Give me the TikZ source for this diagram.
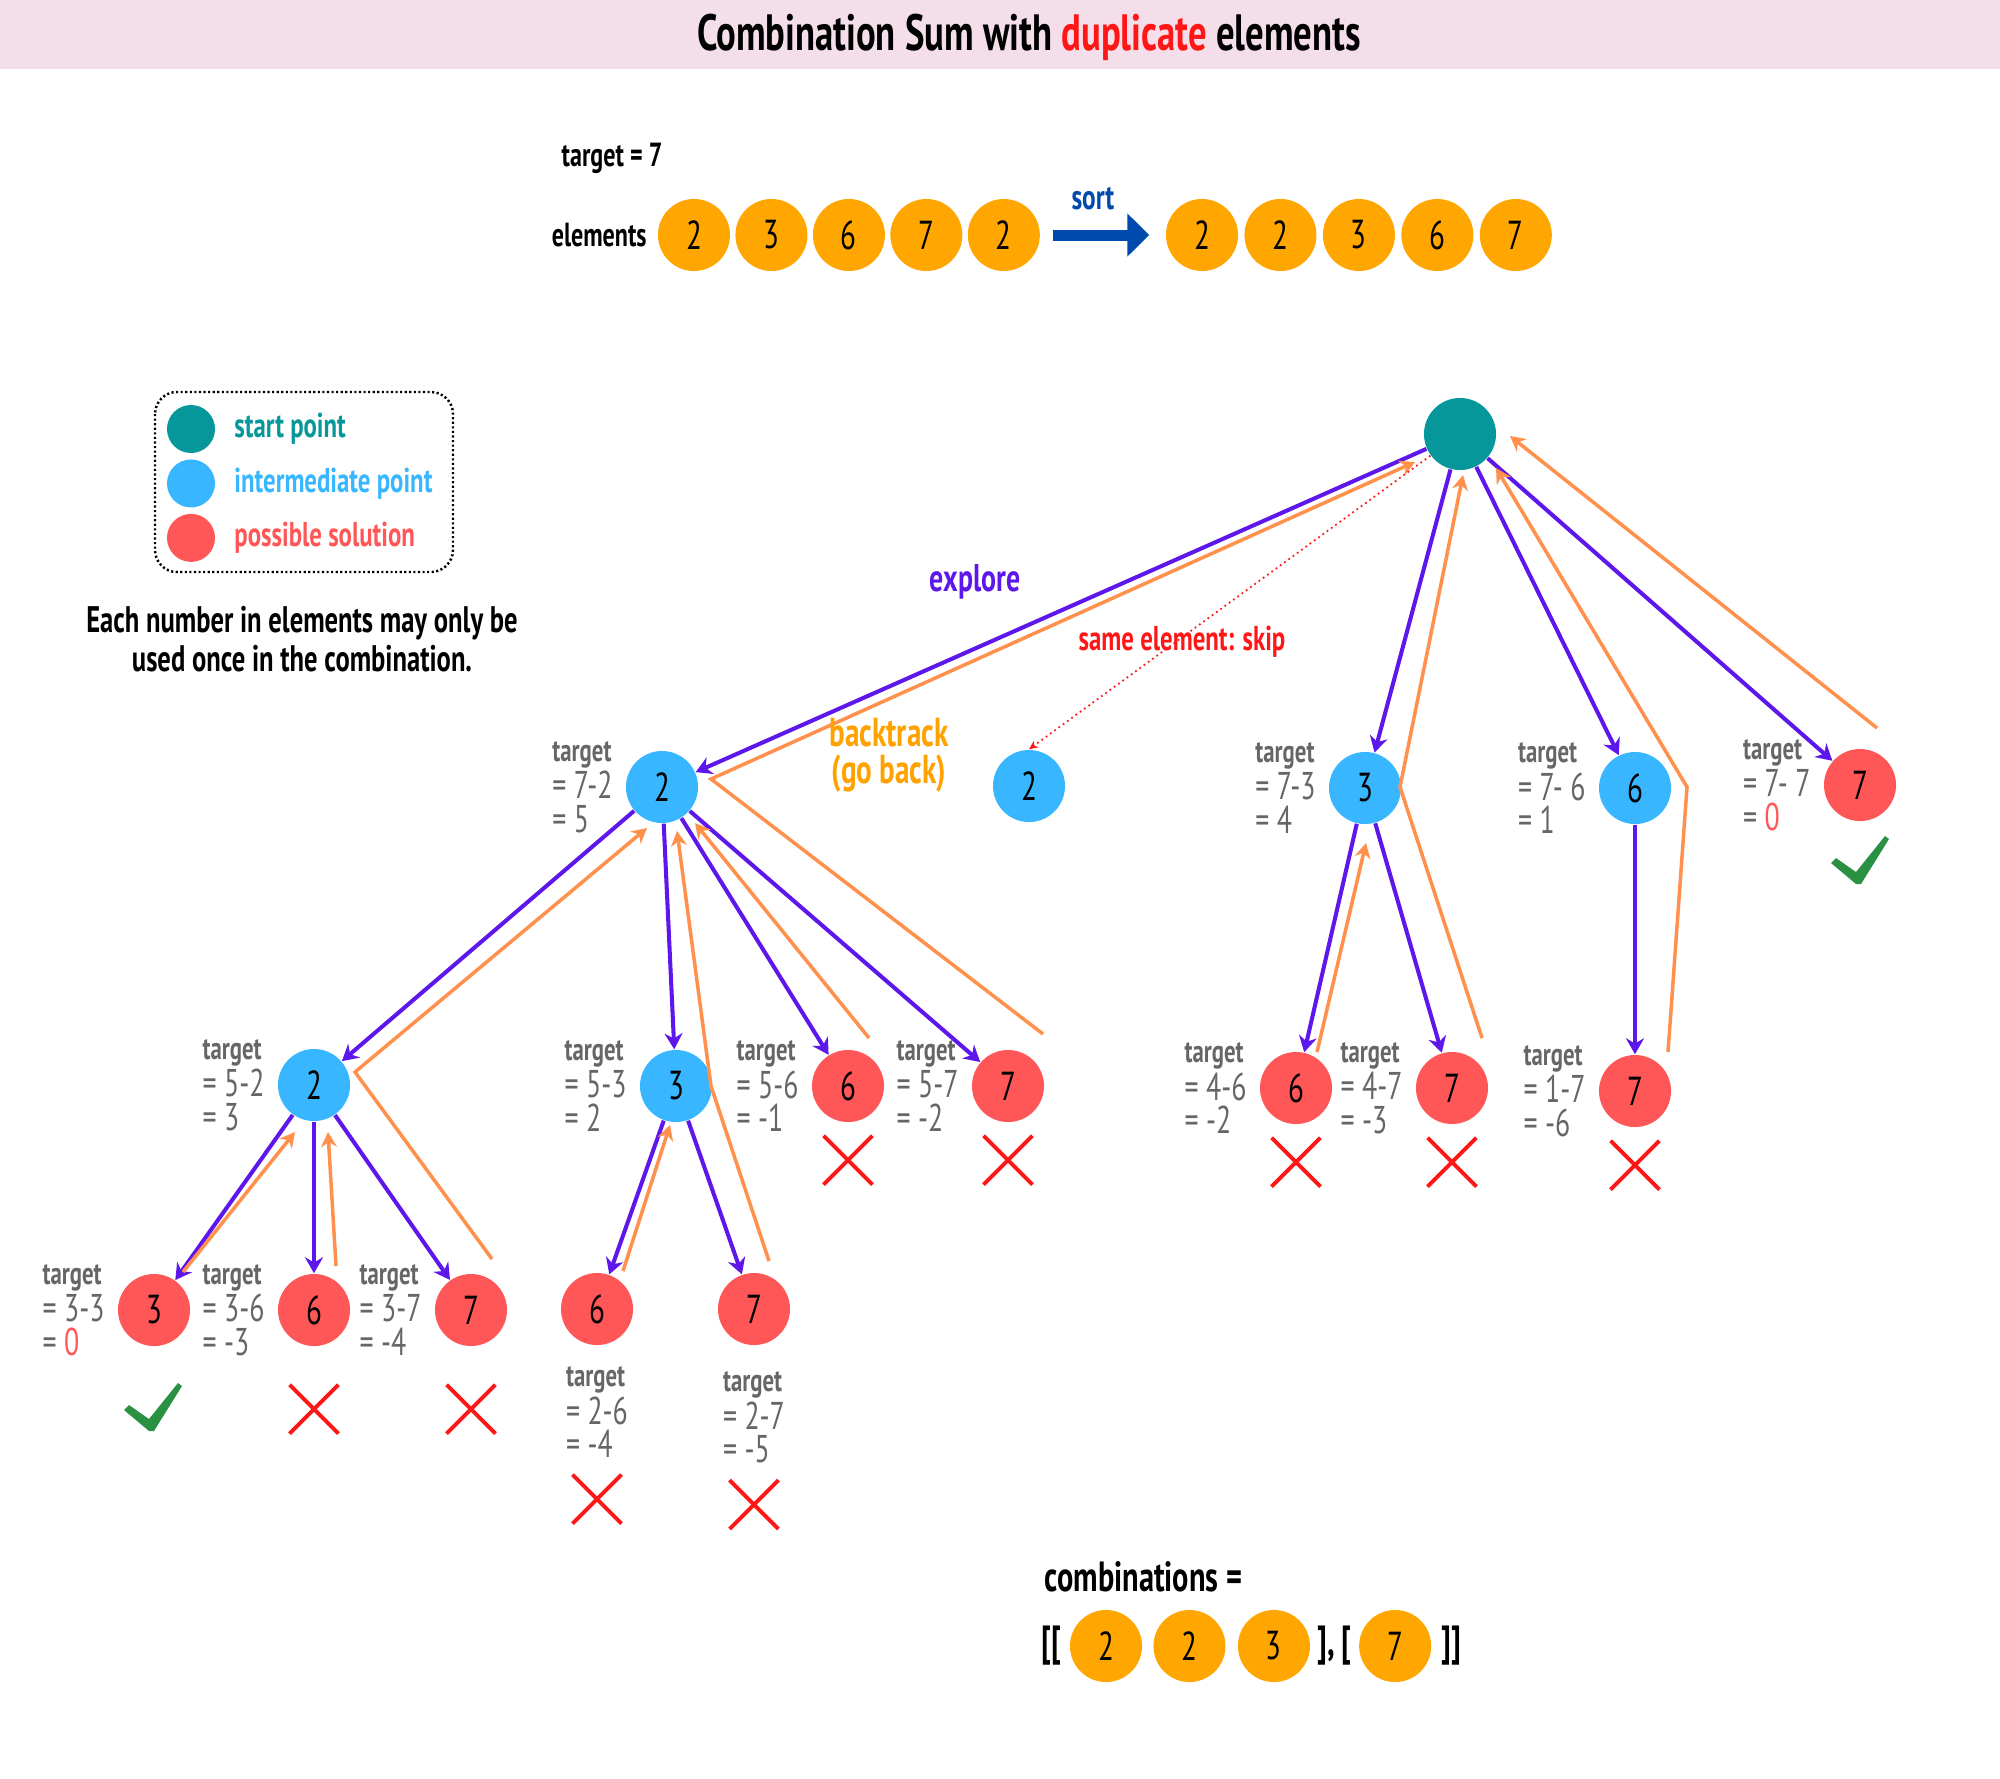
\documentclass[tikz,border=0pt]{standalone}
\usepackage{fontspec}
\setmainfont{PT Sans}[FakeStretch=0.72]
\usepackage{tikz}
\usetikzlibrary{arrows.meta,shapes.misc,positioning,calc}

\definecolor{rootteal}{HTML}{06979A}
\definecolor{midblue}{HTML}{38B6FF}
\definecolor{solred}{HTML}{FF5757}
\definecolor{elemorange}{HTML}{FFA600}
\definecolor{explviolet}{HTML}{5E17EB}
\definecolor{backorange}{HTML}{FF914D}
\definecolor{labelorange}{HTML}{FFA200}
\definecolor{hotred}{HTML}{FF1616}
\definecolor{okgreen}{HTML}{2A9142}
\definecolor{notegray}{HTML}{666666}
\definecolor{bandpink}{HTML}{F4DEEA}
\definecolor{sortblue}{HTML}{004AAD}

\newcommand{\tgtword}{{\bfseries\fontsize{9}{9.6}\selectfont target}}
\newcommand{\redzero}{\textcolor{solred}{0}}

\tikzset{okmark/.pic={\fill[okgreen] (-30,3) -- (-25,-2) -- (-5,12) -- (24,-24)
  -- (28,-21) -- (0,24) -- (-5,24) -- cycle;}}

\begin{document}
\begin{tikzpicture}[x=0.01cm, y=-0.01cm,
  treept/.style={circle, inner sep=0pt, minimum size=0.72cm,
                 font=\fontsize{11.5}{11.5}\selectfont},
  rootpt/.style={treept, fill=rootteal},
  midpt/.style={treept, fill=midblue},
  solpt/.style={treept, fill=solred},
  elempt/.style={treept, fill=elemorange},
  legpt/.style={circle, inner sep=0pt, minimum size=0.48cm},
  tlab/.style={text=notegray, align=left, inner sep=0pt,
               font=\fontsize{11}{9.6}\selectfont},
  note/.style={inner sep=0pt, font=\bfseries\fontsize{9.5}{10}\selectfont},
  legtext/.style={inner sep=0pt, font=\bfseries\fontsize{9.8}{10}\selectfont},
  bignote/.style={inner sep=0pt, font=\bfseries\fontsize{12}{12}\selectfont},
  explarr/.style={draw=explviolet, line width=1.15pt,
                  -{Stealth[length=0.16cm,width=0.18cm]}},
  backarr/.style={draw=backorange, line width=1pt,
                  -{Stealth[length=0.15cm,width=0.16cm]}},
  skiparr/.style={draw=hotred, densely dotted, line width=0.5pt,
                  -{Stealth[length=0.09cm,width=0.08cm]}},
  sortarr/.style={draw=sortblue, line width=0.11cm,
                  -{Triangle[length=0.22cm,width=0.42cm]},
                  shorten <=0.12cm, shorten >=0.16cm},
  nope/.style={cross out, draw=hotred, line width=1.1pt,
               minimum size=0.45cm, inner sep=0pt}
]
\useasboundingbox (0,0) rectangle (2000,1778);

% title band
\fill[bandpink] (0,0) rectangle (2000,69);
\node[anchor=base, font=\bfseries\fontsize{14.5}{15}\selectfont] (title) at (1029,50)
  {Combination Sum with \textcolor{hotred}{duplicate} elements};

% input and sorted input
\node[note, anchor=west] (tgt) at (561,158) {target = 7};
\node[elempt]                  (e1) at (694,235) {2};
\node[elempt, right=0.04cm of e1] (e2) {3};
\node[elempt, right=0.04cm of e2] (e3) {6};
\node[elempt, right=0.04cm of e3] (e4) {7};
\node[elempt, right=0.04cm of e4] (e5) {2};
\node[note, left=0.1cm of e1]  (elab) {elements};
\node[elempt]                  (s1) at (1202,235) {2};
\node[elempt, right=0.05cm of s1] (s2) {2};
\node[elempt, right=0.05cm of s2] (s3) {3};
\node[elempt, right=0.05cm of s3] (s4) {6};
\node[elempt, right=0.05cm of s4] (s5) {7};
\draw[sortarr] (e5) -- node[pos=0.42, above=0.2cm, inner sep=0pt, text=sortblue,
  font=\bfseries\fontsize{10}{10}\selectfont] (lsort) {sort} (s1);

% legend
\draw[dash pattern=on 0.6pt off 0.7pt, line width=0.7pt, rounded corners=0.22cm]
  (155,392) rectangle (453,572);
\node[legpt, fill=rootteal]                   (kstart) at (191,429) {};
\node[legpt, fill=midblue, below=0.05cm of kstart] (kmid) {};
\node[legpt, fill=solred, below=0.05cm of kmid]    (ksol) {};
\node[legtext, text=rootteal, right=0.18cm of kstart] (tstart) {start point};
\node[legtext, text=midblue, right=0.18cm of kmid]    (tmid) {intermediate point};
\node[legtext, text=solred, right=0.18cm of ksol]     (tsol) {possible solution};
\node[note, align=center, font=\bfseries\fontsize{10.5}{11}\selectfont] (rule)
  at (302,639) {Each number in elements may only be\\used once in the combination.};

% tree
\node[rootpt]        (root) at (1460,434) {};
\node[midpt]         (n2)   at (662,787)  {2};
\node[midpt]         (n2skip) at (1029,786) {2};
\node[midpt]         (n3)   at (1365,788) {3};
\node[midpt]         (n6)   at (1635,788) {6};
\node[solpt]         (n7)   at (1860,785) {7};
\node[midpt]         (n22)  at (314,1085) {2};
\node[midpt]         (n23)  at (676,1086) {3};
\node[solpt]         (n26)  at (848,1086) {6};
\node[solpt]         (n27)  at (1008,1086) {7};
\node[solpt]         (n36)  at (1296,1088) {6};
\node[solpt]         (n37)  at (1452,1088) {7};
\node[solpt]         (n67)  at (1635,1091) {7};
\node[solpt]         (n223) at (154,1310) {3};
\node[solpt]         (n226) at (314,1310) {6};
\node[solpt]         (n227) at (471,1310) {7};
\node[solpt]         (n236) at (597,1309) {6};
\node[solpt]         (n237) at (754,1309) {7};

% explore
\foreach \a/\b in {root/n2, root/n3, root/n6, root/n7, n2/n22, n2/n23, n2/n26,
                   n2/n27, n3/n36, n3/n37, n6/n67, n22/n223, n22/n226, n22/n227,
                   n23/n236, n23/n237}
  \draw[explarr] (\a) -- (\b);

% backtrack
\draw[backarr] ($(n27)+(35,-52)$) -- ($(n2)+(49,-8)$) -- ($(root)+(-45,28)$);
\draw[backarr] ($(n227)+(21,-51)$) -- ($(n22)+(41,-13)$) -- ($(n2)+(-15,41)$);
\draw[backarr] ($(n223)+(29,-38)$) -- ($(n22)+(-19,47)$);
\draw[backarr] ($(n226)+(22,-44)$) -- ($(n22)+(14,47)$);
\draw[backarr] ($(n237)+(15,-48)$) -- ($(n23)+(35,0)$) -- ($(n2)+(15,44)$);
\draw[backarr] ($(n236)+(26,-38)$) -- ($(n23)+(-6,39)$);
\draw[backarr] ($(n26)+(21,-48)$) -- ($(n2)+(33,36)$);
\draw[backarr] ($(n36)+(21,-36)$) -- ($(n3)+(1,55)$);
\draw[backarr] ($(n37)+(30,-50)$) -- ($(n3)+(35,-1)$) -- ($(root)+(3,41)$);
\draw[backarr] ($(n67)+(33,-39)$) -- ($(n6)+(52,-1)$) -- ($(root)+(36,34)$);
\draw[backarr] ($(n7)+(17,-57)$) -- ($(root)+(50,2)$);

% skip
\draw[skiparr] (root) -- (n2skip.north);

\node[text=explviolet, font=\bfseries\fontsize{11}{11}\selectfont] (lexplore)
  at (975,582) {explore};
\node[text=labelorange, align=center, font=\bfseries\fontsize{11.5}{10.5}\selectfont]
  (lback) at (889,755) {backtrack\\(go back)};
\node[text=hotred, font=\bfseries\fontsize{9.8}{9.8}\selectfont] (lskip)
  at (1182,642) {same element: skip};

% targets
\foreach \n/\a/\b in {n2/7-2/5, n3/7-3/4, n6/7- 6/1, n7/7- 7/\redzero,
                      n22/5-2/3, n23/5-3/2, n26/5-6/-1, n27/5-7/-2,
                      n36/4-6/-2, n37/4-7/-3, n67/1-7/-6,
                      n223/3-3/\redzero, n226/3-6/-3, n227/3-7/-4}
  \node[tlab, left=0.12cm of \n] (t\n) {\tgtword\\= \a\\= \b};
\node[tlab, below=0.2cm of n236]  (tn236) {\tgtword\\= 2-6\\= -4};
\node[tlab, below=0.25cm of n237] (tn237) {\tgtword\\= 2-7\\= -5};

% marks
\foreach \n in {n26, n27, n36, n37, n67}
  \node[nope, below=0.13cm of \n] (x\n) {};
\foreach \n in {n226, n227}
  \node[nope, below=0.38cm of \n] (x\n) {};
\foreach \n in {tn236, tn237}
  \node[nope, below=0.16cm of \n] (x\n) {};
\pic at ($(n223)+(0,97)$) {okmark};
\pic at ($(n7)+(1,75)$) {okmark};

% result
\node[bignote, anchor=west] (combo) at (1044,1577) {combinations =};
\node[elempt]                      (r1) at (1106,1646) {2};
\node[elempt, right=0.1cm of r1]   (r2) {2};
\node[elempt, right=0.11cm of r2]  (r3) {3};
\node[bignote, right=0.06cm of r3] (sep) {],\,[};
\node[elempt, right=0.06cm of sep] (r4) {7};
\node[bignote, right=0.09cm of r4] (close) {]]};
\node[bignote, left=0.07cm of r1]  (open) {[[};
\end{tikzpicture}
\end{document}
